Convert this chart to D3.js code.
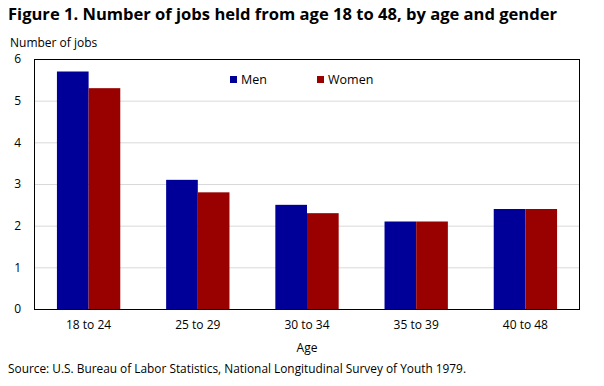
<!DOCTYPE html>
<html><head><meta charset="utf-8">
<script src="https://cdn.jsdelivr.net/npm/d3@7"></script>
<style>body{margin:0;background:#fff}svg{display:block}text{font-family:"Open Sans",sans-serif;fill:#000}</style>
</head><body>
<script>
const categories = ["18 to 24","25 to 29","30 to 34","35 to 39","40 to 48"];
const men = [5.7,3.1,2.5,2.1,2.4];
const women = [5.3,2.8,2.3,2.1,2.4];
const seriesNames = ["Men","Women"];
const colors = ["#000099","#990000"];
const yTicks = [0,1,2,3,4,5,6];

const W=604,H=386;
const m={l:34,r:24,t:59,b:77};
const svg=d3.select("body").append("svg").attr("width",W).attr("height",H);
const x=d3.scaleBand().domain(categories).range([m.l,W-m.r]).paddingInner(0.42).paddingOuter(0.21);
const xs=d3.scaleBand().domain(seriesNames).range([0,x.bandwidth()]);
const y=d3.scaleLinear().domain([0,6]).range([H-m.b,m.t]);

svg.append("text").attr("x",8).attr("y",20).attr("font-size",15.5).attr("font-weight","bold")
  .attr("textLength",549).attr("lengthAdjust","spacingAndGlyphs")
  .text("Figure 1. Number of jobs held from age 18 to 48, by age and gender");
svg.append("text").attr("x",10).attr("y",47).attr("font-size",12).text("Number of jobs");

svg.append("g").selectAll("line").data(yTicks.filter(d=>d>0&&d<6)).join("line")
  .attr("x1",m.l).attr("x2",W-m.r).attr("y1",d=>y(d)+0.5).attr("y2",d=>y(d)+0.5)
  .attr("stroke","#d9d9d9").attr("stroke-width",1);

const data=categories.map((c,i)=>({c,vals:[men[i],women[i]]}));
const g=svg.append("g").selectAll("g").data(data).join("g").attr("transform",d=>`translate(${x(d.c)},0)`);
g.selectAll("rect").data(d=>d.vals.map((v,j)=>({v,s:seriesNames[j],j}))).join("rect")
  .attr("x",d=>xs(d.s)).attr("width",xs.bandwidth()).attr("y",d=>y(d.v)).attr("height",d=>y(0)-y(d.v))
  .attr("fill",d=>colors[d.j]);

svg.append("rect").attr("x",m.l+0.5).attr("y",m.t+0.5).attr("width",W-m.l-m.r-1).attr("height",H-m.t-m.b)
  .attr("fill","none").attr("stroke","#000").attr("stroke-width",1);

const ya=svg.append("g").attr("transform",`translate(${m.l},0)`).call(d3.axisLeft(y).tickValues(yTicks).tickFormat(d3.format("d")).tickSize(0).tickPadding(13));
ya.select(".domain").remove();
ya.selectAll("text").attr("font-size",12).attr("font-family","Open Sans").attr("fill","#000");

const xa=svg.append("g").attr("transform",`translate(0,${H-m.b})`).call(d3.axisBottom(x).tickSize(0).tickPadding(11));
xa.select(".domain").remove();
xa.selectAll("text").attr("font-size",12).attr("font-family","Open Sans").attr("fill","#000");

svg.append("text").attr("x",(m.l+W-m.r)/2).attr("y",352).attr("text-anchor","middle").attr("font-size",12).text("Age");
svg.append("text").attr("x",8).attr("y",373).attr("font-size",12).attr("textLength",458).attr("lengthAdjust","spacingAndGlyphs").text("Source: U.S. Bureau of Labor Statistics, National Longitudinal Survey of Youth 1979.");

const legX=[230,317];
const lg=svg.append("g").selectAll("g").data(seriesNames).join("g").attr("transform",(d,i)=>`translate(${legX[i]},76)`);
lg.append("rect").attr("width",7).attr("height",7).attr("fill",(d,i)=>colors[i]);
lg.append("text").attr("x",11).attr("y",7.5).attr("font-size",12.5).text(d=>d);
</script>
</body></html>
